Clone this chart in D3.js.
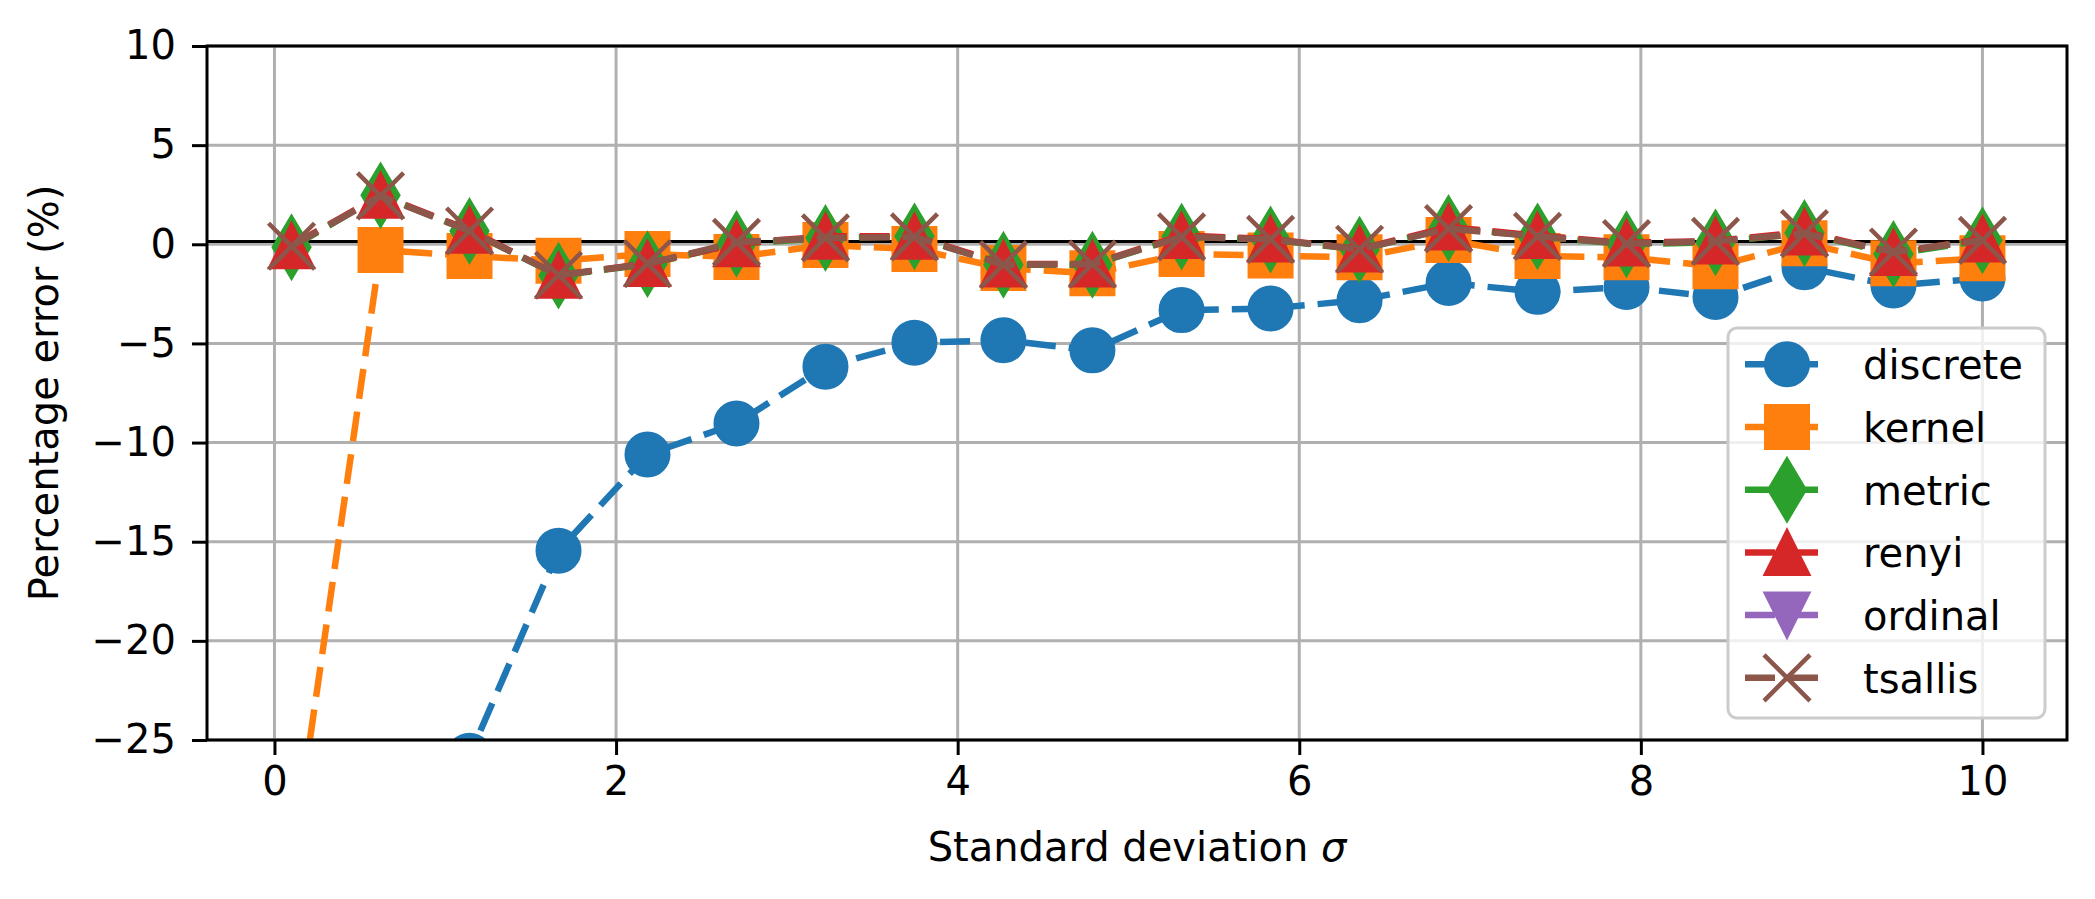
<html>
<head>
<meta charset="utf-8">
<title>Percentage error vs standard deviation</title>
<script src="https://d3js.org/d3.v7.min.js"></script>
<style>
  body { margin: 0; background: #fff; }
  text { font-family: "DejaVu Sans", sans-serif; fill: #000; }
</style>
</head>
<body>
<script>
// data
var sigma = [0.1, 0.621, 1.142, 1.663, 2.184, 2.705, 3.226, 3.747, 4.268, 4.789,
             5.311, 5.832, 6.353, 6.874, 7.395, 7.916, 8.437, 8.958, 9.479, 10.0];
var discrete = [-80, -45, -25.8, -15.45, -10.6, -9.04, -6.17, -4.96, -4.84, -5.35,
                -3.32, -3.24, -2.82, -1.95, -2.4, -2.15, -2.66, -1.16, -2.08, -1.72];
var kernel = [-31.4, -0.29, -0.59, -0.83, -0.49, -0.64, -0.04, -0.24, -1.2, -1.46,
              -0.49, -0.57, -0.66, 0.22, -0.59, -0.66, -1.11, 0.05, -0.96, -0.71];
var metric = [-0.15, 2.47, 0.67, -1.58, -1.0, 0.02, 0.32, 0.40, -1.03, -1.03,
              0.39, 0.24, -0.27, 0.82, 0.40, 0.0, 0.10, 0.57, -0.49, 0.20];
var renyi = [-0.07, 2.47, 0.71, -1.56, -0.97, 0.03, 0.40, 0.40, -0.99, -0.99,
             0.44, 0.27, -0.24, 0.87, 0.44, 0.07, 0.17, 0.62, -0.42, 0.27];
var ordinal = [null, null, null, null, null, null, null, null, null, null,
               null, null, null, null, null, null, null, null, null, null];
var tsallis = [-0.1, 2.44, 0.67, -1.56, -0.98, 0.10, 0.32, 0.37, -1.03, -1.0,
               0.37, 0.25, -0.25, 0.79, 0.40, 0.03, 0.15, 0.54, -0.39, 0.20];

var names = ["discrete", "kernel", "metric", "renyi", "ordinal", "tsallis"];
var xTicks = [0, 2, 4, 6, 8, 10];
var yTicks = [-25, -20, -15, -10, -5, 0, 5, 10];

var colors = ["#1f77b4", "#ff7f0e", "#2ca02c", "#d62728", "#9467bd", "#8c564b"];
var shapes = ["circle", "square", "diamond", "triangle", "triangleDown", "x"];
var series = [discrete, kernel, metric, renyi, ordinal, tsallis];

var width = 2095, height = 899;
var plotLeft = 207, plotRight = 2067, plotTop = 46, plotBottom = 740;
var fontSize = 40;

var svg = d3.select("body").append("svg")
  .attr("width", width)
  .attr("height", height);
svg.append("rect").attr("width", width).attr("height", height).attr("fill", "#fff");

var x = d3.scaleLinear().domain([-0.395, 10.495]).range([plotLeft, plotRight]);
var y = d3.scaleLinear().domain([-25, 10]).range([plotBottom, plotTop]);

svg.append("clipPath").attr("id", "plot")
  .append("rect")
  .attr("x", plotLeft).attr("y", plotTop)
  .attr("width", plotRight - plotLeft).attr("height", plotBottom - plotTop);

// grid
var grid = svg.append("g");
grid.selectAll(".gx").data(xTicks).enter().append("line")
  .attr("x1", d => x(d)).attr("x2", d => x(d))
  .attr("y1", plotTop).attr("y2", plotBottom)
  .attr("stroke", "#b0b0b0").attr("stroke-width", 3);
grid.selectAll(".gy").data(yTicks).enter().append("line")
  .attr("y1", d => y(d)).attr("y2", d => y(d))
  .attr("x1", plotLeft).attr("x2", plotRight)
  .attr("stroke", "#b0b0b0").attr("stroke-width", 3);

// reference line near zero
svg.append("line")
  .attr("x1", plotLeft).attr("x2", plotRight)
  .attr("y1", y(0.14)).attr("y2", y(0.14))
  .attr("stroke", "#000").attr("stroke-width", 3);

function markerPath(shape) {
  var p = d3.path();
  if (shape == "circle") {
    p.moveTo(21.5, 0);
    p.arc(0, 0, 21.5, 0, 2 * Math.PI);
  } else if (shape == "square") {
    p.rect(-21.5, -21.5, 43, 43);
  } else if (shape == "diamond") {
    p.moveTo(0, -31); p.lineTo(18.5, 0); p.lineTo(0, 31); p.lineTo(-18.5, 0); p.closePath();
  } else if (shape == "triangle") {
    p.moveTo(0, -22); p.lineTo(22, 22); p.lineTo(-22, 22); p.closePath();
  } else if (shape == "triangleDown") {
    p.moveTo(0, 22); p.lineTo(22, -22); p.lineTo(-22, -22); p.closePath();
  } else {
    p.moveTo(-23, -23); p.lineTo(23, 23);
    p.moveTo(-23, 23); p.lineTo(23, -23);
  }
  return p.toString();
}

function drawMarker(sel, shape, color) {
  sel.attr("d", markerPath(shape))
    .attr("fill", shape == "x" ? "none" : color)
    .attr("stroke", color)
    .attr("stroke-width", shape == "x" ? 4.5 : 3)
    .attr("stroke-linejoin", "miter");
}

var plot = svg.append("g").attr("clip-path", "url(#plot)");
var line = d3.line()
  .defined(d => d != null)
  .x((d, i) => x(sigma[i]))
  .y(d => y(d));

series.forEach(function(values, k) {
  var g = plot.append("g");
  g.append("path")
    .attr("d", line(values))
    .attr("fill", "none")
    .attr("stroke", colors[k])
    .attr("stroke-width", 6.5)
    .attr("stroke-dasharray", "30,13");
  var pts = values.map((v, i) => ({x: sigma[i], v: v})).filter(d => d.v != null);
  g.selectAll(".m").data(pts).enter().append("path")
    .attr("transform", d => `translate(${x(d.x)},${y(d.v)})`)
    .call(drawMarker, shapes[k], colors[k]);
});

// frame
svg.append("rect")
  .attr("x", plotLeft).attr("y", plotTop)
  .attr("width", plotRight - plotLeft).attr("height", plotBottom - plotTop)
  .attr("fill", "none").attr("stroke", "#000").attr("stroke-width", 3);

// axes
var fmt = d => d < 0 ? "\u2212" + Math.abs(d) : String(d);
var xAxis = svg.append("g")
  .attr("transform", `translate(0,${plotBottom})`)
  .call(d3.axisBottom(x).tickValues(xTicks).tickFormat(fmt).tickSize(15).tickPadding(12));
var yAxis = svg.append("g")
  .attr("transform", `translate(${plotLeft},0)`)
  .call(d3.axisLeft(y).tickValues(yTicks).tickFormat(fmt).tickSize(15).tickPadding(16));
[xAxis, yAxis].forEach(function(a) {
  a.select(".domain").remove();
  a.selectAll(".tick line").attr("stroke", "#000").attr("stroke-width", 3);
  a.selectAll(".tick text")
    .attr("font-family", "DejaVu Sans")
    .attr("font-size", fontSize)
    .attr("fill", "#000");
});

// axis labels
var xl = svg.append("text")
  .attr("x", (plotLeft + plotRight) / 2).attr("y", 861)
  .attr("text-anchor", "middle")
  .attr("font-size", fontSize);
xl.append("tspan").text("Standard deviation ");
xl.append("tspan").attr("font-style", "italic").text("\u03c3");

svg.append("text")
  .attr("transform", `translate(58,${(plotTop + plotBottom) / 2}) rotate(-90)`)
  .attr("text-anchor", "middle")
  .attr("font-size", fontSize)
  .text("Percentage error (%)");

// legend
var lg = svg.append("g");
lg.append("rect")
  .attr("x", 1728).attr("y", 328)
  .attr("width", 317).attr("height", 390)
  .attr("rx", 9)
  .attr("fill", "#fff").attr("fill-opacity", 0.8)
  .attr("stroke", "#cccccc").attr("stroke-width", 3);

names.forEach(function(name, k) {
  var cy = 364.3 + 62.7 * k;
  var row = lg.append("g");
  row.append("line")
    .attr("x1", 1745).attr("x2", 1820)
    .attr("y1", cy).attr("y2", cy)
    .attr("stroke", colors[k])
    .attr("stroke-width", 6.5)
    .attr("stroke-dasharray", "30,13");
  row.append("path")
    .attr("transform", `translate(1787,${cy})`)
    .call(drawMarker, shapes[k], colors[k]);
  row.append("text")
    .attr("x", 1863).attr("y", cy + 15)
    .attr("font-size", fontSize)
    .text(name);
});
</script>
</body>
</html>
